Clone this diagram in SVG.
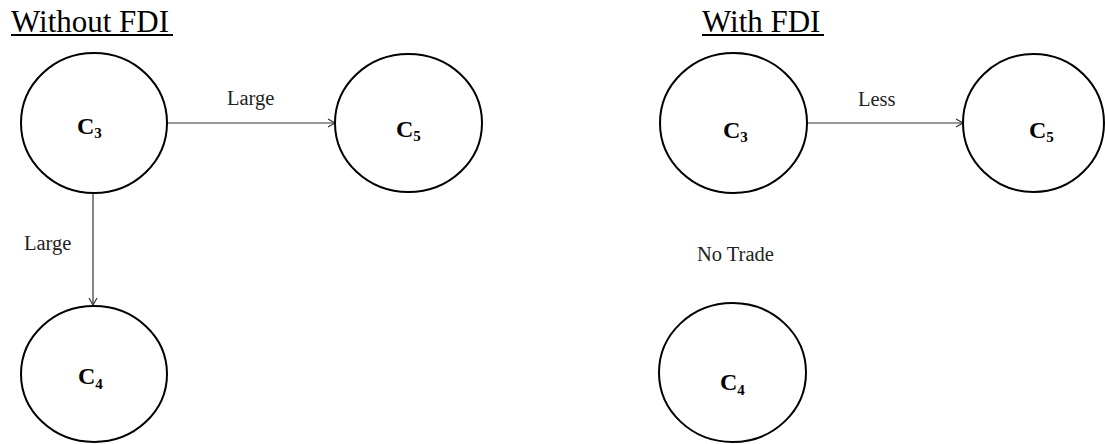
<svg xmlns="http://www.w3.org/2000/svg" width="1105" height="444" viewBox="0 0 1105 444">
<style>
.node{fill:#fff;stroke:#000;stroke-width:2}
.lbl{font-family:"Liberation Serif",serif;font-weight:bold;font-size:24px;fill:#000}
.sub{font-size:15px}
.edge{stroke:#333;stroke-width:1.2;fill:none}
.elbl{font-family:"Liberation Serif",serif;font-size:20.5px;fill:#222}
.title{font-family:"Liberation Serif",serif;font-size:31px;fill:#000}
</style>
<defs>
<marker id="arr" markerWidth="10" markerHeight="10" refX="8" refY="5" orient="auto" markerUnits="userSpaceOnUse">
<path d="M1,1 L8,5 L1,9" fill="none" stroke="#333" stroke-width="1.2"/>
</marker>
</defs>
<rect width="1105" height="444" fill="#fff"/>
<g id="titles">
<text class="title" x="11" y="32">Without FDI</text>
<line x1="11" y1="35" x2="173" y2="35" stroke="#000" stroke-width="2"/>
<text class="title" x="702" y="32">With FDI</text>
<line x1="702" y1="35" x2="824" y2="35" stroke="#000" stroke-width="2"/>
</g>
<g id="connectors">
<line class="edge" x1="167" y1="123" x2="335" y2="123" marker-end="url(#arr)"/>
<text class="elbl" x="227" y="105">Large</text>
<line class="edge" x1="93" y1="193" x2="93" y2="305" marker-end="url(#arr)"/>
<text class="elbl" x="24" y="250">Large</text>
<line class="edge" x1="807" y1="123" x2="963" y2="123" marker-end="url(#arr)"/>
<text class="elbl" x="858" y="106">Less</text>
<text class="elbl" x="697" y="261">No Trade</text>
</g>
<g id="left-c3">
<ellipse class="node" cx="94" cy="123" rx="73" ry="70"/>
<text class="lbl" x="77" y="134">C<tspan class="sub" dy="4">3</tspan></text>
</g>
<g id="left-c5">
<ellipse class="node" cx="408.5" cy="123" rx="73.5" ry="69"/>
<text class="lbl" x="396" y="137">C<tspan class="sub" dy="4">5</tspan></text>
</g>
<g id="left-c4">
<ellipse class="node" cx="94" cy="374" rx="73" ry="68"/>
<text class="lbl" x="78" y="384">C<tspan class="sub" dy="5">4</tspan></text>
</g>
<g id="right-c3">
<ellipse class="node" cx="733.5" cy="123" rx="73.5" ry="70"/>
<text class="lbl" x="723" y="138">C<tspan class="sub" dy="4">3</tspan></text>
</g>
<g id="right-c5">
<ellipse class="node" cx="1033.5" cy="123" rx="70.5" ry="69"/>
<text class="lbl" x="1029" y="138">C<tspan class="sub" dy="4">5</tspan></text>
</g>
<g id="right-c4">
<ellipse class="node" cx="732.5" cy="372.5" rx="73.5" ry="69.5"/>
<text class="lbl" x="720" y="390">C<tspan class="sub" dy="5">4</tspan></text>
</g>
</svg>
